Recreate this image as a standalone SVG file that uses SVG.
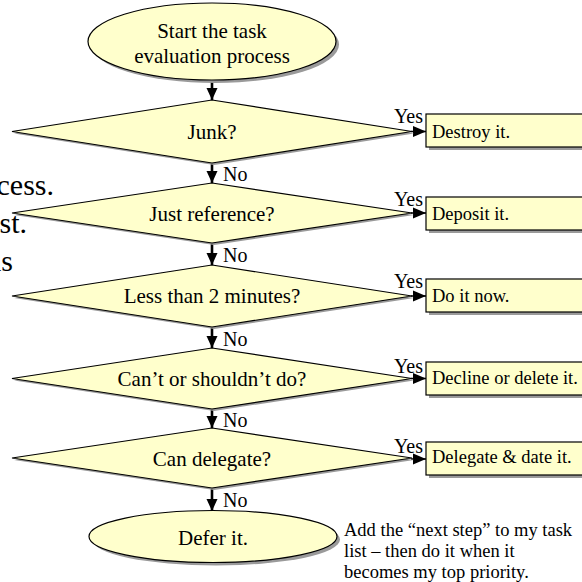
<svg xmlns="http://www.w3.org/2000/svg" width="582" height="582" viewBox="0 0 582 582" font-family="'Liberation Serif', 'Times New Roman', 'DejaVu Serif', serif">
<defs>
<style>
text{font-family:'Liberation Serif','Times New Roman','DejaVu Serif',serif;fill:#000}
.n{fill:#FFFFCC;stroke:#000;stroke-width:1.2}
.sh{fill:#9a9a9a}
.lbl{font-size:20px}
.dt{font-size:21px;text-anchor:middle}
.bt{font-size:18.5px}
.v{stroke:#000;stroke-width:2.6;fill:none}
.h{stroke:#000;stroke-width:1.5;fill:none}
</style>
<marker id="av" markerUnits="userSpaceOnUse" markerWidth="13" markerHeight="12" refX="12" refY="6" orient="auto" viewBox="0 0 13 12">
<path d="M0,0.5 L12,6 L0,11.5 Z" fill="#000"/>
</marker>
<marker id="ah" markerUnits="userSpaceOnUse" markerWidth="14" markerHeight="12" refX="13" refY="6" orient="auto" viewBox="0 0 14 12">
<path d="M0,0.5 L13,6 L0,11.5 Z" fill="#000"/>
</marker>
</defs>
<rect width="582" height="582" fill="#fff"/>
<g id="bg-text" font-size="30">
<text x="54" y="195" text-anchor="end">cess.</text>
<text x="27" y="233" text-anchor="end">st.</text>
<text x="13" y="271" text-anchor="end">ns</text>
</g>
<g id="connectors">
<line class="v" x1="212" y1="80" x2="212" y2="100" marker-end="url(#av)"/>
<line class="v" x1="212" y1="163" x2="212" y2="183" marker-end="url(#av)"/>
<line class="v" x1="212" y1="244" x2="212" y2="265" marker-end="url(#av)"/>
<line class="v" x1="212" y1="327" x2="212" y2="348" marker-end="url(#av)"/>
<line class="v" x1="212" y1="409" x2="212" y2="428" marker-end="url(#av)"/>
<line class="v" x1="212" y1="489" x2="212" y2="511" marker-end="url(#av)"/>
<line class="h" x1="411" y1="131.5" x2="426" y2="131.5" marker-end="url(#ah)"/>
<line class="h" x1="411" y1="213" x2="426" y2="213" marker-end="url(#ah)"/>
<line class="h" x1="411" y1="296" x2="426" y2="296" marker-end="url(#ah)"/>
<line class="h" x1="411" y1="378.5" x2="426" y2="378.5" marker-end="url(#ah)"/>
<line class="h" x1="411" y1="459" x2="426" y2="459" marker-end="url(#ah)"/>
<g class="lbl">
<text x="223" y="181">No</text>
<text x="223" y="262">No</text>
<text x="223" y="346">No</text>
<text x="223" y="427">No</text>
<text x="223" y="507">No</text>
<text x="423" y="123" text-anchor="end">Yes</text>
<text x="423" y="206" text-anchor="end">Yes</text>
<text x="423" y="288" text-anchor="end">Yes</text>
<text x="423" y="373" text-anchor="end">Yes</text>
<text x="423" y="453" text-anchor="end">Yes</text>
</g>
</g>
<g id="start">
<ellipse class="sh" cx="215" cy="44.5" rx="124" ry="38.5"/>
<ellipse class="n" cx="212" cy="41.5" rx="124" ry="38.5"/>
<text class="dt" x="212" y="38">Start the task</text>
<text class="dt" x="212" y="63">evaluation process</text>
</g>
<g id="junk">
<polygon class="sh" points="214,102 414,133.5 214,165 14,133.5"/>
<polygon class="n" points="212,100 412,131.5 212,163 12,131.5"/>
<text class="dt" x="212" y="139">Junk?</text>
</g>
<g id="reference">
<polygon class="sh" points="214,185 414,215 214,245 14,215"/>
<polygon class="n" points="212,183 412,213 212,243 12,213"/>
<text class="dt" x="212" y="221">Just reference?</text>
</g>
<g id="twomin">
<polygon class="sh" points="214,267 414,298 214,329 14,298"/>
<polygon class="n" points="212,265 412,296 212,327 12,296"/>
<text class="dt" x="212" y="303">Less than 2 minutes?</text>
</g>
<g id="cant">
<polygon class="sh" points="214,350 414,380.5 214,411 14,380.5"/>
<polygon class="n" points="212,348 412,378.5 212,409 12,378.5"/>
<text class="dt" x="212" y="386">Can’t or shouldn’t do?</text>
</g>
<g id="delegate">
<polygon class="sh" points="214,430 414,460 214,490 14,460"/>
<polygon class="n" points="212,428 412,458 212,488 12,458"/>
<text class="dt" x="212" y="466">Can delegate?</text>
</g>
<g id="defer">
<ellipse class="sh" cx="216" cy="539.5" rx="124" ry="26"/>
<ellipse class="n" cx="213" cy="536.5" rx="124" ry="26"/>
<text class="dt" x="213" y="545">Defer it.</text>
</g>
<g id="destroy">
<rect class="sh" x="429" y="117" width="170" height="33"/>
<rect class="n" x="426" y="114" width="170" height="33"/>
<text class="bt" x="432" y="138">Destroy it.</text>
</g>
<g id="deposit">
<rect class="sh" x="429" y="200" width="170" height="33"/>
<rect class="n" x="426" y="197" width="170" height="33"/>
<text class="bt" x="432" y="220">Deposit it.</text>
</g>
<g id="doitnow">
<rect class="sh" x="429" y="282" width="170" height="33"/>
<rect class="n" x="426" y="279" width="170" height="33"/>
<text class="bt" x="432" y="302">Do it now.</text>
</g>
<g id="decline">
<rect class="sh" x="429" y="365" width="170" height="33"/>
<rect class="n" x="426" y="362" width="170" height="33"/>
<text class="bt" x="432" y="384">Decline or delete it.</text>
</g>
<g id="delegatedate">
<rect class="sh" x="429" y="445" width="170" height="33"/>
<rect class="n" x="426" y="442" width="170" height="33"/>
<text class="bt" x="432" y="463">Delegate &amp; date it.</text>
</g>
<g id="note" class="bt">
<text x="344" y="536">Add the “next step” to my task</text>
<text x="344" y="557">list – then do it when it</text>
<text x="344" y="578">becomes my top priority.</text>
</g>
</svg>
